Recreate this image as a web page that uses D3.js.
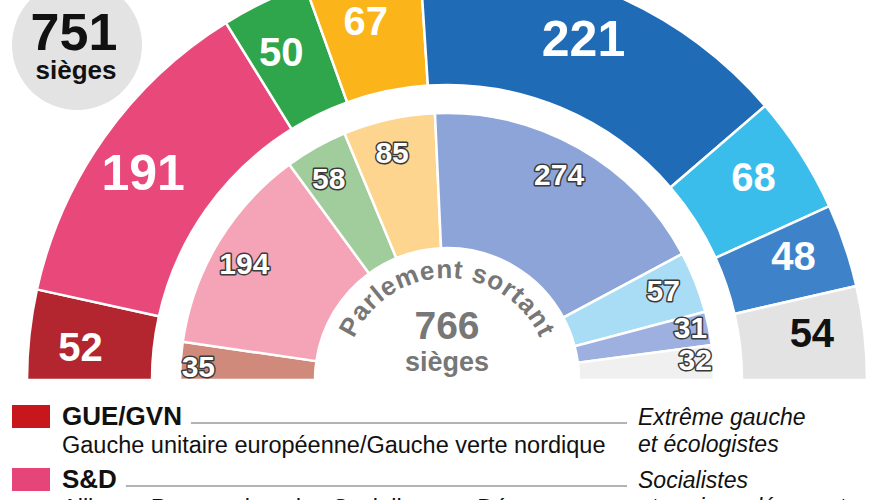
<!DOCTYPE html>
<html><head><meta charset="utf-8">
<script src="https://cdn.jsdelivr.net/npm/d3@7"></script>
<style>
body{margin:0;background:#fff;}
svg{display:block;font-family:"Liberation Sans",Arial,Helvetica,sans-serif;}
</style>
</head><body>
<svg id="chart" width="885" height="500"></svg>
<script>
// ---- data ----
const groups = ["GUE/GVN", "S&D", "Verts/ALE", "ADLE", "PPE", "ECR", "EFD", "Non-inscrits"];
const seatsNew = [52, 191, 50, 67, 221, 68, 48, 54];
const seatsOld = [35, 194, 58, 85, 274, 57, 31, 32];
const colorsNew = ["#b3262f", "#e9487b", "#2fa64b", "#fbb51a", "#1f6bb6", "#3bbdec", "#3e83c9", "#e3e3e3"];
const colorsOld = ["#d08a7c", "#f5a3b6", "#a1cd9c", "#fdd58e", "#8ca4d8", "#a9ddf6", "#9eb0e0", "#f0f0f0"];
const totalNewLabel = ["751", "sièges"];
const totalOldLabel = ["Parlement sortant", "766", "sièges"];
const legendCodes = ["GUE/GVN", "S&D"];
const legendNames = ["Gauche unitaire européenne/Gauche verte nordique", "Alliance Progressiste des Socialistes et Démocrates"];
const legendFamilies = [["Extrême gauche", "et écologistes"], ["Socialistes", "et sociaux-démocrates"]];
const legendColors = ["#c8161d", "#e6457a"];

// ---- layout ----
const svg = d3.select("#chart");
const cx = 447, cy = 380;
const outerR = [295, 420], innerR = [132, 267];
const deg = Math.PI / 180;

const pie = d3.pie().sort(null).value(d => d)
  .startAngle(-Math.PI / 2).endAngle(Math.PI / 2);

const g = svg.append("g").attr("transform", `translate(${cx},${cy})`);

function ring(values, colors, radii, cls) {
  const arc = d3.arc().innerRadius(radii[0]).outerRadius(radii[1]);
  const arcs = pie(values);
  g.append("g").attr("class", cls).selectAll("path").data(arcs).join("path")
    .attr("d", arc)
    .attr("fill", (d, i) => colors[i])
    .attr("stroke", "#fff").attr("stroke-width", 2.5).attr("stroke-linejoin", "miter");
  return arcs;
}
const arcsNew = ring(seatsNew, colorsNew, outerR, "new");
const arcsOld = ring(seatsOld, colorsOld, innerR, "old");

function pos(d, r) {
  const a = (d.startAngle + d.endAngle) / 2 - 1 * deg;
  return [r * Math.sin(a), -r * Math.cos(a)];
}

// outer labels
g.append("g").selectAll("text").data(arcsNew).join("text")
  .attr("transform", d => `translate(${pos(d, 368)})`)
  .attr("text-anchor", "middle").attr("dy", "0.36em")
  .attr("font-weight", "bold")
  .attr("font-size", d => d.value > 150 ? 50 : 40)
  .attr("fill", (d, i) => d3.hsl(colorsNew[i]).l > 0.8 ? "#111" : "#fff")
  .text(d => d.value);

// inner labels (outlined)
g.append("g").selectAll("text").data(arcsOld).join("text")
  .attr("transform", d => `translate(${pos(d, d.value < 40 ? 249 : 234)})`)
  .attr("text-anchor", "middle").attr("dy", "0.36em")
  .attr("font-weight", "bold").attr("font-size", 30)
  .attr("fill", "#fff").attr("stroke", "#3a3a3a").attr("stroke-width", 3)
  .attr("stroke-linejoin", "round").attr("paint-order", "stroke")
  .text(d => d.value);

// curved "Parlement sortant"
const textR = 102;
svg.append("defs").append("path").attr("id", "curve")
  .attr("d", `M${cx - textR},${cy} A${textR},${textR} 0 0 1 ${cx + textR},${cy}`);
svg.append("text").attr("font-weight", "bold").attr("font-size", 26).attr("fill", "#777")
  .attr("letter-spacing", 0.8)
  .append("textPath").attr("href", "#curve").attr("startOffset", "50%").attr("text-anchor", "middle")
  .text(totalOldLabel[0]);
svg.append("text").attr("x", cx).attr("y", 339).attr("text-anchor", "middle")
  .attr("font-weight", "bold").attr("font-size", 39).attr("fill", "#777").text(totalOldLabel[1]);
svg.append("text").attr("x", cx).attr("y", 371).attr("text-anchor", "middle")
  .attr("font-weight", "bold").attr("font-size", 27).attr("fill", "#777").text(totalOldLabel[2]);

// total badge
svg.append("circle").attr("cx", 77).attr("cy", 45).attr("r", 65).attr("fill", "#e3e3e3");
svg.append("text").attr("x", 74).attr("y", 50).attr("text-anchor", "middle")
  .attr("font-weight", "bold").attr("font-size", 52).attr("fill", "#111").text(totalNewLabel[0]);
svg.append("text").attr("x", 76).attr("y", 79).attr("text-anchor", "middle")
  .attr("font-weight", "bold").attr("font-size", 26).attr("fill", "#111").text(totalNewLabel[1]);

// legend
const legendY = [425, 488];
legendCodes.forEach((code, i) => {
  const y = legendY[i];
  svg.append("rect").attr("x", 12).attr("y", y - 20).attr("width", 38).attr("height", 23)
    .attr("fill", legendColors[i]);
  const t = svg.append("text").attr("x", 62).attr("y", y).attr("font-weight", "bold")
    .attr("font-size", 26).attr("fill", "#111").text(code);
  const w = t.node().getComputedTextLength();
  svg.append("line").attr("x1", 62 + w + 9).attr("x2", 627).attr("y1", y - 2).attr("y2", y - 2)
    .attr("stroke", "#9a9a9a").attr("stroke-width", 1.6);
  svg.append("text").attr("x", 62).attr("y", y + 28).attr("font-size", 23.5).attr("fill", "#111")
    .text(legendNames[i]);
  legendFamilies[i].forEach((f, j) => {
    svg.append("text").attr("x", 638).attr("y", y + j * 27).attr("font-size", 23)
      .attr("font-style", "italic").attr("fill", "#111").text(f);
  });
});
</script>
</body></html>
